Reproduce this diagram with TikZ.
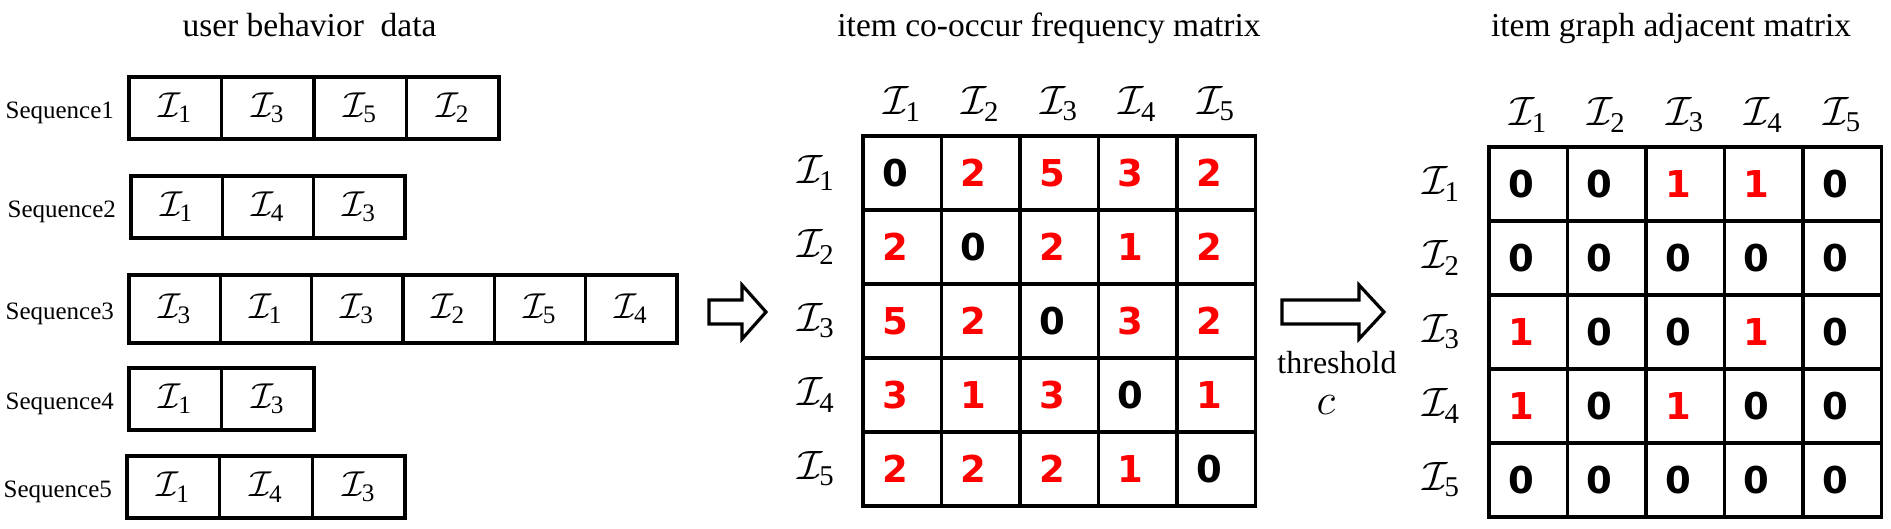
\RequirePackage{fix-cm}
\documentclass[tikz,border=0pt]{standalone}
\usepackage{amsmath}
\usepackage{fontspec}
\setmainfont{Liberation Serif}
\newfontfamily\digitfont{DejaVu Sans}
\usetikzlibrary{positioning}

\tikzset{
  seqcell/.style={draw, line width=1.7pt, inner sep=0pt, font=\fontsize{18}{21}\selectfont},
  seqlabel/.style={inner sep=0pt, font=\fontsize{12.5}{15}\selectfont},
  paneltitle/.style={inner sep=0pt, anchor=base, font=\fontsize{16.75}{20}\selectfont},
  headlab/.style={inner sep=0pt, font=\fontsize{20.5}{24}\selectfont},
  mcell/.style={draw, line width=1.7pt, minimum width=39.25pt, minimum height=37pt, inner sep=0pt,
    font=\digitfont\fontsize{18.5}{22}\bfseries\selectfont},
  blockarrow/.style={draw, line width=1.6pt, line join=miter}
}
\newcommand{\itm}[1]{$\mathcal{I}_{\text{#1}}$}

\begin{document}
\begin{tikzpicture}[x=0.5pt, y=-0.5pt]
  \useasboundingbox (0,0) rectangle (1891,529);

  % titles
  \node[paneltitle] (t-seq) at (309.5,37) {user behavior\ \ data};
  \node[paneltitle] (t-freq) at (1049,37) {item co-occur frequency matrix};
  \node[paneltitle] (t-adj) at (1671,37) {item graph adjacent matrix};

  % user behavior sequences
  % seq / left x / center y / height / cell width / items
  \foreach \s/\xa/\y/\h/\w/\items in {
    1/129/108/62/92.5/{1,3,5,2},
    2/131/207/62/91.3/{1,4,3},
    3/129/309/68/91.3/{3,1,3,2,5,4},
    4/129/399/62/92.5/{1,3},
    5/127/487/62/92.7/{1,4,3}}{
    \foreach \i [count=\k] in \items {
      \node[seqcell, minimum width=0.5pt*\w, minimum height=0.5pt*\h] (s\s-\k)
        at ({\xa+\w*(\k-0.5)}, \y) {\itm{\i}};
    }
    \node[seqlabel, left=6.5pt of s\s-1, yshift=-2.5pt] (lab\s) {Sequence\s};
  }

  % block arrows
  \coordinate (arrA) at (709,312);
  \coordinate (arrB) at (1282,312);
  \draw[blockarrow] (arrA) ++(0,-12) -- ++(33,0) -- ++(0,-15) -- ++(24,27)
    -- ++(-24,27) -- ++(0,-15) -- ++(-33,0) -- cycle;
  \draw[blockarrow] (arrB) ++(0,-12) -- ++(77,0) -- ++(0,-15) -- ++(25,27)
    -- ++(-25,27) -- ++(0,-15) -- ++(-77,0) -- cycle;
  \node[inner sep=0pt, font=\fontsize{16}{19}\selectfont] (thr) at (1337,363) {threshold};
  \node[inner sep=0pt, font=\fontsize{22}{26}\selectfont] (thr-c) at (1326,405) {$c$};

  % co-occur frequency matrix
  \foreach \row [count=\r] in {{0,2,5,3,2},{2,0,2,1,2},{5,2,0,3,2},{3,1,3,0,1},{2,2,2,1,0}}{
    \foreach \v [count=\c] in \row {
      \ifnum\v=0 \def\numcol{black}\else\def\numcol{red}\fi
      \node[mcell, text=\numcol] (f\r-\c) at ({863+78.5*(\c-0.5)}, {136+74*(\r-0.5)}) {\v\kern7pt};
    }
  }
  \foreach \i in {1,...,5}{
    \node[headlab] (fc\i) at ({863+78.5*(\i-0.5)}, 104) {\itm{\i}};
    \node[headlab] (fr\i) at (816, {136+74*(\i-0.5)}) {\itm{\i}};
  }

  % graph adjacent matrix
  \foreach \row [count=\r] in {{0,0,1,1,0},{0,0,0,0,0},{1,0,0,1,0},{1,0,1,0,0},{0,0,0,0,0}}{
    \foreach \v [count=\c] in \row {
      \ifnum\v=0 \def\numcol{black}\else\def\numcol{red}\fi
      \node[mcell, text=\numcol] (a\r-\c) at ({1489+78.5*(\c-0.5)}, {147+74*(\r-0.5)}) {\v\kern7pt};
    }
  }
  \foreach \i in {1,...,5}{
    \node[headlab] (ac\i) at ({1489+78.5*(\i-0.5)}, 115) {\itm{\i}};
    \node[headlab] (ar\i) at (1441, {147+74*(\i-0.5)}) {\itm{\i}};
  }
\end{tikzpicture}
\end{document}
